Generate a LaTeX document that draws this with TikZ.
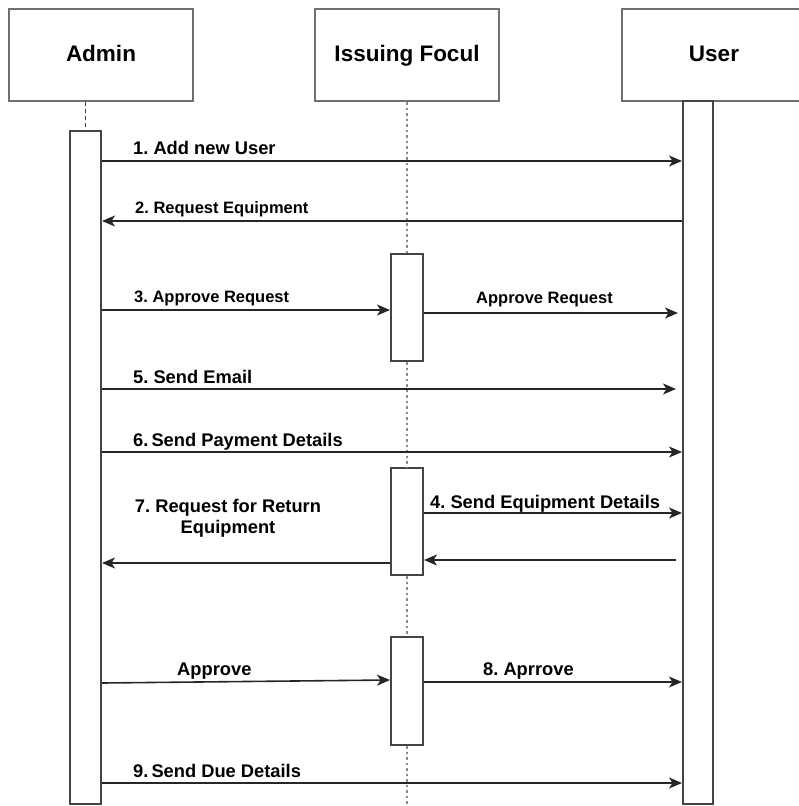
\documentclass[tikz,border=0pt]{standalone}
\usepackage{fontspec}
\setmainfont{Liberation Sans}
\usetikzlibrary{arrows.meta}
\definecolor{boxgray}{HTML}{707070}
\definecolor{bargray}{HTML}{444444}
\definecolor{linegray}{HTML}{8A8A8A}
\tikzset{
	headbox/.style = {
		rectangle,
		draw=boxgray,
		line width=2pt,
		minimum width=184pt,
		minimum height=92pt,
		inner sep=0pt,
		text height=16pt,
		text depth=4pt,
		font=\fontsize{22.5}{26}\selectfont\bfseries
	},
	actbar/.style = {
		rectangle,
		draw=bargray,
		fill=white,
		line width=2pt,
		minimum width=31pt,
		inner sep=0pt
	},
	msg/.style = {
		-{Stealth[length=13pt,width=11pt,inset=3.5pt]},
		draw=black!85,
		line width=1.6pt
	},
	lifeline/.style = {
		linegray,
		line width=2.6pt,
		dash pattern=on 2.5pt off 3pt
	},
	lbl/.style = {
		anchor=base west,
		inner sep=0pt,
		font=\fontsize{18.3}{21}\selectfont\bfseries
	},
	lbl_small/.style = {
		lbl,
		font=\fontsize{16.5}{20}\selectfont\bfseries
	},
}
\frenchspacing
\begin{document}
\begin{tikzpicture}[x=1pt,y=-1pt]
\useasboundingbox (0,0) rectangle (799,806);
% lifeline heads
\node [headbox] (admin) at (101,55) {Admin};
\node [headbox] (focul) at (407,55) {Issuing Focul};
\node [headbox] (user) at (714,55) {User};
% activation bars
\node [actbar, minimum height=673pt] (abar) at (85.5,467.5) {};
\node [actbar, minimum width=30pt, minimum height=703pt] (ubar) at (698,452.5) {};
\node [actbar, minimum width=32pt, minimum height=107pt] (fbox1) at (407,307.5) {};
\node [actbar, minimum width=32pt, minimum height=107pt] (fbox2) at (407,521.5) {};
\node [actbar, minimum width=32pt, minimum height=108pt] (fbox3) at (407,691) {};
\coordinate (fend) at (407,806);
% lifelines
\draw [bargray, line width=1.6pt, dash pattern=on 4pt off 3pt] (abar.north |- admin.south) -- (abar.north);
\draw [lifeline] (focul.south) -- (fbox1.north);
\draw [lifeline] (fbox1.south) -- (fbox2.north);
\draw [lifeline] (fbox2.south) -- (fbox3.north);
\draw [lifeline] (fbox3.south) -- (fend);
% message rows
\coordinate (r1) at (0,161);
\coordinate (r2) at (0,221);
\coordinate (r3) at (0,310);
\coordinate (r3b) at (0,313);
\coordinate (r5) at (0,389);
\coordinate (r6) at (0,452);
\coordinate (r4) at (0,513);
\coordinate (r7a) at (0,560);
\coordinate (r7b) at (0,563);
\coordinate (r8a) at (0,683);
\coordinate (r8b) at (0,680);
\coordinate (r8c) at (0,682);
\coordinate (r9) at (0,783);
% messages
\draw [msg] (abar.east |- r1) -- (ubar.west |- r1);
\draw [msg] (ubar.west |- r2) -- (abar.east |- r2);
\draw [msg] (abar.east |- r3) -- (fbox1.west |- r3);
\draw [msg, shorten >=4pt] (fbox1.east |- r3b) -- (ubar.west |- r3b);
\draw [msg, shorten >=6pt] (abar.east |- r5) -- (ubar.west |- r5);
\draw [msg] (abar.east |- r6) -- (ubar.west |- r6);
\draw [msg] (fbox2.east |- r4) -- (ubar.west |- r4);
\draw [msg, shorten <=6pt] (ubar.west |- r7a) -- (fbox2.east |- r7a);
\draw [msg] (fbox2.west |- r7b) -- (abar.east |- r7b);
\draw [msg] (abar.east |- r8a) -- (fbox3.west |- r8b);
\draw [msg] (fbox3.east |- r8c) -- (ubar.west |- r8c);
\draw [msg] (abar.east |- r9) -- (ubar.west |- r9);
% labels
\node [lbl] (l1) at (133,154) {1. Add new User};
\node [lbl_small] (l2) at (135,213) {2. Request Equipment};
\node [lbl_small] (l3) at (134,302) {3. Approve Request};
\node [lbl_small] (l3b) at (476,303) {Approve Request};
\node [lbl] (l5) at (133,383) {5. Send Email};
\node [lbl] (l6) at (133,446) {6.\,Send Payment Details};
\node [lbl] (l4) at (430,508) {4. Send Equipment Details};
\node [lbl, anchor=base, align=center] (l7) at (228,533) {7. Request for Return\\Equipment};
\node [lbl] (l8a) at (177,675) {Approve};
\node [lbl] (l8) at (483,675) {8. Aprrove};
\node [lbl] (l9) at (133,777) {9.\,Send Due Details};
\end{tikzpicture}
\end{document}
